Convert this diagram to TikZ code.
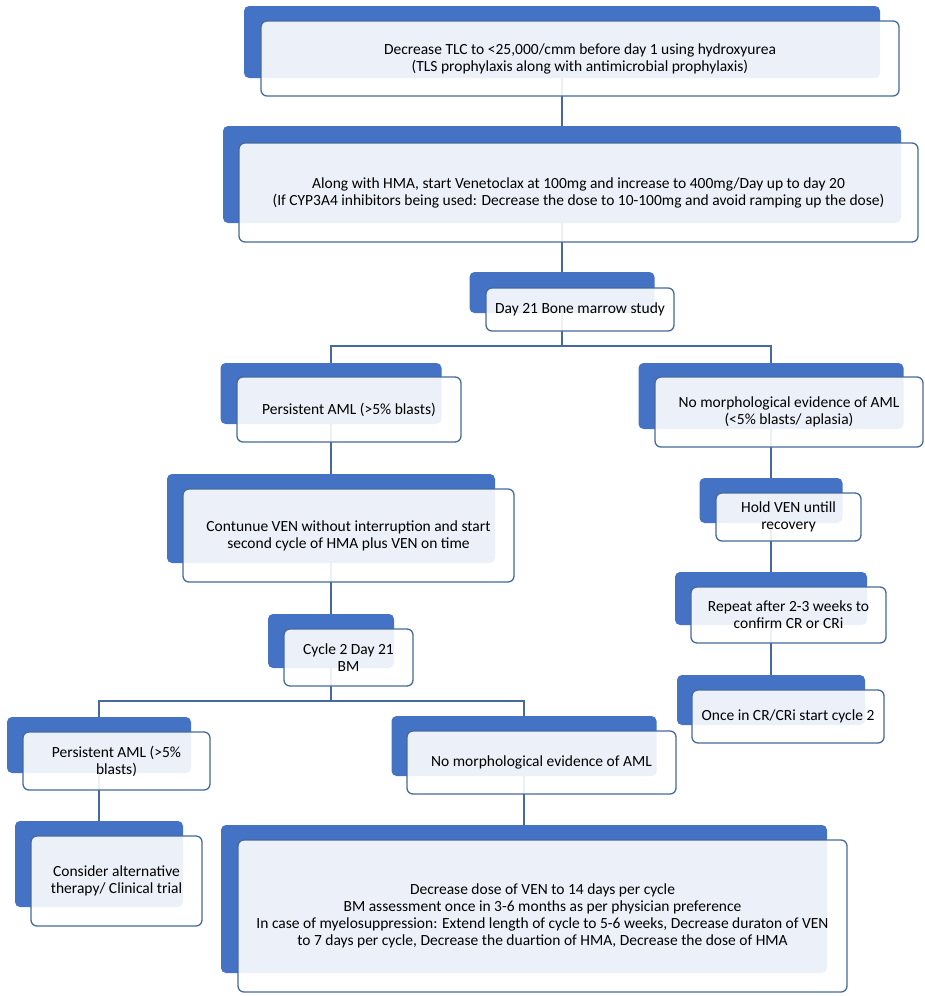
\documentclass[tikz,border=0pt]{standalone}
\usepackage{fontspec}
\setmainfont{Carlito}
\usetikzlibrary{backgrounds}
\definecolor{boxblue}{RGB}{68,114,196}
\definecolor{lineblue}{RGB}{70,106,156}
\tikzset{
  backbox/.style={fill=boxblue, rounded corners=5pt, inner sep=0pt},
  frontbox/.style={draw=lineblue, line width=1.3pt, fill=white, fill opacity=0.9,
    text opacity=1, rounded corners=6pt, inner sep=0pt, align=center},
  link/.style={draw=lineblue, line width=1.6pt}
}

\begin{document}
\begin{tikzpicture}[x=1pt, y=-1pt, font=\fontsize{15.5}{17}\selectfont]
   \useasboundingbox (0,0) rectangle (924,996);
   % main trunk
   \node [backbox, minimum width=636pt, minimum height=72pt] (tlcback) at (562,42) {};
   \node [frontbox, minimum width=638pt, minimum height=75pt] (tlc) at (580,58.5)
     {Decrease TLC to <25,000/cmm before day 1 using hydroxyurea\\(TLS prophylaxis along with antimicrobial prophylaxis)};
   \node [backbox, minimum width=678pt, minimum height=97pt] (venback) at (562,174.5) {};
   \node [frontbox, minimum width=679pt, minimum height=99pt] (ven) at (578.5,192.5)
     {Along with HMA, start Venetoclax at 100mg and increase to 400mg/Day up to day 20\\(If CYP3A4 inhibitors being used: Decrease the dose to 10-100mg and avoid ramping up the dose)};
   \node [backbox, minimum width=185pt, minimum height=41pt] (d21back) at (562,292.5) {};
   \node [frontbox, minimum width=188pt, minimum height=43pt] (d21) at (580,309.5) {Day 21 Bone marrow study};
   % left branch
   \node [backbox, minimum width=221pt, minimum height=61pt] (aml1back) at (331,393.5) {};
   \node [frontbox, minimum width=224pt, minimum height=65pt] (aml1) at (349,409.5) {Persistent AML (>5\% blasts)};
   \node [backbox, minimum width=328pt, minimum height=89pt] (contback) at (331,518.5) {};
   \node [frontbox, minimum width=331pt, minimum height=93pt] (cont) at (348.5,535.5)
     {Contunue VEN without interruption and start\\second cycle of HMA plus VEN on time};
   \node [backbox, minimum width=126pt, minimum height=54pt] (cyc2back) at (331,641) {};
   \node [frontbox, minimum width=129pt, minimum height=57pt] (cyc2) at (348.5,657.5) {Cycle 2 Day 21\\BM};
   \node [backbox, minimum width=184pt, minimum height=56pt] (aml2back) at (99,745) {};
   \node [frontbox, minimum width=187pt, minimum height=58pt] (aml2) at (116.5,761) {Persistent AML (>5\%\\blasts)};
   \node [backbox, minimum width=168pt, minimum height=86pt] (altback) at (99,864) {};
   \node [frontbox, minimum width=171pt, minimum height=90pt] (alt) at (116.5,881)
     {Consider alternative\\therapy/ Clinical trial};
   \node [backbox, minimum width=265pt, minimum height=60pt] (nomor2back) at (524,746) {};
   \node [frontbox, minimum width=269pt, minimum height=63pt] (nomor2) at (541.5,762.5) {No morphological evidence of AML};
   \node [backbox, minimum width=606pt, minimum height=148pt] (bigback) at (524,899) {};
   \node [frontbox, minimum width=609pt, minimum height=152pt] (big) at (542.5,916)
     {Decrease dose of VEN to 14 days per cycle\\BM assessment once in 3-6 months as per physician preference\\In case of myelosuppression: Extend length of cycle to 5-6 weeks, Decrease duraton of VEN\\to 7 days per cycle, Decrease the duartion of HMA, Decrease the dose of HMA};
   % right branch
   \node [backbox, minimum width=265pt, minimum height=66pt] (nomor1back) at (771,396) {};
   \node [frontbox, minimum width=268pt, minimum height=70pt] (nomor1) at (789,412)
     {No morphological evidence of AML\\(<5\% blasts/ aplasia)};
   \node [backbox, minimum width=143pt, minimum height=45pt] (holdback) at (771,500.5) {};
   \node [frontbox, minimum width=145pt, minimum height=48pt] (hold) at (788.5,517) {Hold VEN untill\\recovery};
   \node [backbox, minimum width=192pt, minimum height=53pt] (repback) at (771,598.5) {};
   \node [frontbox, minimum width=195pt, minimum height=56pt] (rep) at (788.5,615)
     {Repeat after 2-3 weeks to\\confirm CR or CRi};
   \node [backbox, minimum width=188pt, minimum height=50pt] (onceback) at (771,700) {};
   \node [frontbox, minimum width=192pt, minimum height=53pt] (once) at (788,716.5) {Once in CR/CRi start cycle 2};
   % connectors
   \coordinate (busa) at (562,346);
   \coordinate (busb) at (331,701);
   \begin{scope}[on background layer]
      \draw [link] (tlcback.south) -- (venback.north);
      \draw [link] (venback.south) -- (d21back.north);
      \draw [link] (d21back.south) -- (busa) -| (aml1back.north);
      \draw [link] (busa) -| (nomor1back.north);
      \draw [link] (aml1back.south) -- (contback.north);
      \draw [link] (contback.south) -- (cyc2back.north);
      \draw [link] (cyc2back.south) -- (busb) -| (aml2back.north);
      \draw [link] (busb) -| (nomor2back.north);
      \draw [link] (aml2back.south) -- (altback.north);
      \draw [link] (nomor2back.south) -- (bigback.north);
      \draw [link] (nomor1back.south) -- (holdback.north);
      \draw [link] (holdback.south) -- (repback.north);
      \draw [link] (repback.south) -- (onceback.north);
   \end{scope}
\end{tikzpicture}
\end{document}
